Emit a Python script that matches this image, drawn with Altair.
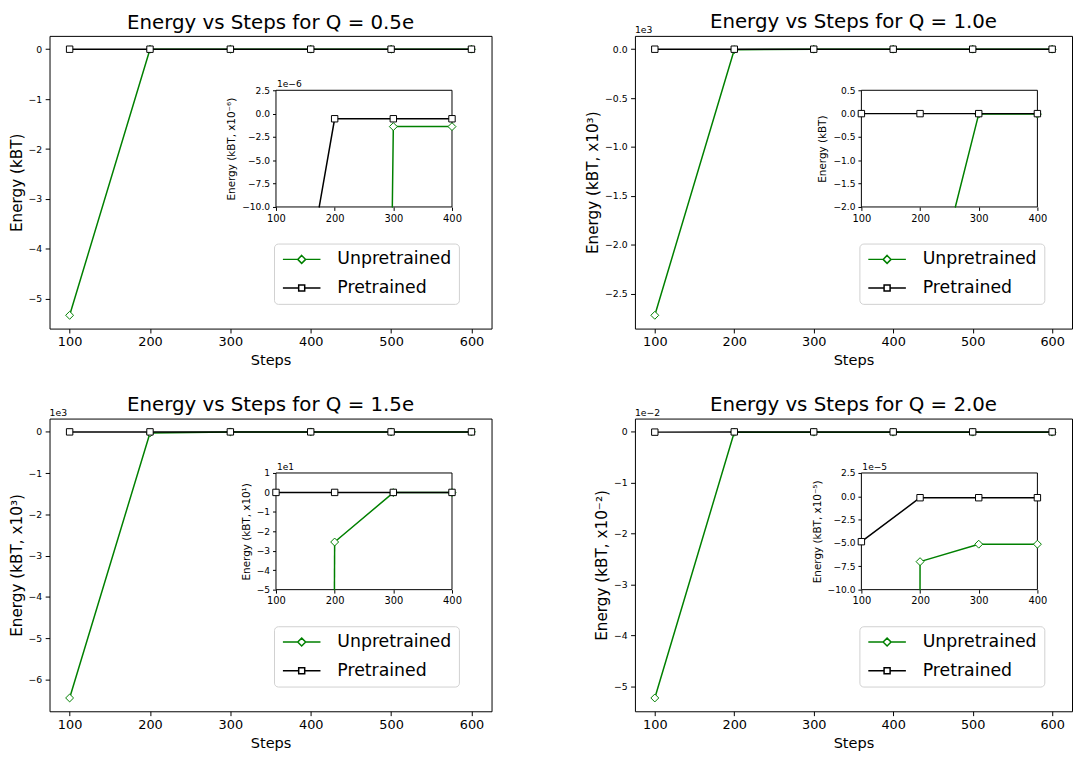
import altair as alt
import pandas as pd

GREEN = "#008000"
FONT = "DejaVu Sans"

steps = [100, 200, 300, 400, 500, 600]
series_names = ["Unpretrained", "Pretrained"]
x_ticks = [100, 200, 300, 400, 500, 600]
inset_x_ticks = [100, 200, 300, 400]

# Energy values (kBT)
q05_unpre = [-5.33, -5.0e-4, -1.39e-6, -1.39e-6, -1.39e-6, -1.39e-6]
q05_pre = [-3.65e-5, -0.55e-6, -0.55e-6, -0.55e-6, -0.55e-6, -0.55e-6]
q10_unpre = [-2720.0, -5.0, -0.01, -0.01, -0.01, -0.01]
q10_pre = [0.0, 0.0, 0.0, 0.0, 0.0, 0.0]
q15_unpre = [-6450.0, -25.5, -0.1, -0.1, -0.1, -0.1]
q15_pre = [0.0, 0.0, 0.0, 0.0, 0.0, 0.0]
q20_unpre = [-0.0523, -7.0e-5, -5.13e-5, -5.13e-5, -5.13e-5, -5.13e-5]
q20_pre = [-4.86e-5, -0.15e-5, -0.15e-5, -0.15e-5, -0.15e-5, -0.15e-5]

titles = ["Energy vs Steps for Q = 0.5e", "Energy vs Steps for Q = 1.0e",
          "Energy vs Steps for Q = 1.5e", "Energy vs Steps for Q = 2.0e"]
main_ytitles = ["Energy (kBT)", "Energy (kBT, x10³)", "Energy (kBT, x10³)", "Energy (kBT, x10⁻²)"]
main_yticks = [[-5, -4, -3, -2, -1, 0], [-2.5, -2.0, -1.5, -1.0, -0.5, 0.0],
               [-6, -5, -4, -3, -2, -1, 0], [-5, -4, -3, -2, -1, 0]]
main_yscale = [1, 1e3, 1e3, 1e-2]
main_yfmt = ["d", ".1f", "d", "d"]
main_offset = ["", "1e3", "1e3", "1e−2"]

inset_ytitles = ["Energy (kBT, x10⁻⁶)", "Energy (kBT)", "Energy (kBT, x10¹)", "Energy (kBT, x10⁻⁵)"]
inset_ydomain = [[-10.0, 2.5], [-2.0, 0.5], [-5.0, 1.0], [-10.0, 2.5]]
inset_yticks = [[-10.0, -7.5, -5.0, -2.5, 0.0, 2.5], [-2.0, -1.5, -1.0, -0.5, 0.0, 0.5],
                [-5, -4, -3, -2, -1, 0, 1], [-10.0, -7.5, -5.0, -2.5, 0.0, 2.5]]
inset_yscale = [1e-6, 1, 1e1, 1e-5]
inset_yfmt = [".1f", ".1f", "d", ".1f"]
inset_offset = ["1e−6", "", "1e1", "1e−5"]

unpre_all = [q05_unpre, q10_unpre, q15_unpre, q20_unpre]
pre_all = [q05_pre, q10_pre, q15_pre, q20_pre]
widths = [447, 442, 447, 442]
title_offsets = [-13, -23, -23, -23]
H = 296
IX = [229, 407]
IY = [173, 55]

DIAMOND_PATH = "M-2.375,0H-0.5M0.5,0H2.375M0,-0.5L0.5,0L0,0.5L-0.5,0Z"
SQUARE_PATH = "M-2.375,0H-0.38M0.38,0H2.375M-0.38,-0.38H0.38V0.38H-0.38Z"

styles = [("Unpretrained", GREEN, "diamond", 64), ("Pretrained", "black", "square", 42)]


def clip(x0, y0, x1, y1, xmin, xmax, ymin, ymax):
    dx, dy = x1 - x0, y1 - y0
    t0, t1 = 0.0, 1.0
    for p, q in ((-dx, x0 - xmin), (dx, xmax - x0), (-dy, y0 - ymin), (dy, ymax - y0)):
        if p == 0:
            if q < 0:
                return None
        else:
            t = q / p
            if p < 0:
                if t > t1:
                    return None
                t0 = max(t0, t)
            else:
                if t < t0:
                    return None
                t1 = min(t1, t)
    if t1 - t0 < 1e-9:
        return None
    return (x0 + t0 * dx, y0 + t0 * dy, x0 + t1 * dx, y0 + t1 * dy)


def make_panel(i):
    W = widths[i]
    unpre, pre = unpre_all[i], pre_all[i]
    df = pd.DataFrame({"Steps": steps * 2, "Energy": unpre + pre,
                       "Series": ["Unpretrained"] * 6 + ["Pretrained"] * 6})
    lo, hi = min(unpre + pre), max(unpre + pre)
    r = hi - lo
    xs = alt.Scale(domain=[75, 625], nice=False, zero=False)
    ys = alt.Scale(domain=[lo - 0.05 * r, hi + 0.05 * r], nice=False, zero=False)
    sc = main_yscale[i]
    xax = alt.Axis(values=x_ticks, title="Steps", orient="bottom", format="d",
                   labelFontSize=13, titleFontSize=14.7, tickSize=4.4, labelPadding=3,
                   titlePadding=4, labelFlush=False)
    yax = alt.Axis(values=[v * sc for v in main_yticks[i]], title=main_ytitles[i], orient="left",
                   labelExpr=f"format(datum.value / {sc}, '{main_yfmt[i]}')",
                   labelFontSize=9.4, titleFontSize=15.4, tickSize=4.4, labelPadding=3.5,
                   titlePadding=4, labelFlush=False)
    main_layers = []
    for s, col, shp, size in styles:
        base = alt.Chart(df).transform_filter(alt.datum.Series == s)
        enc = dict(x=alt.X("Steps:Q", scale=xs, axis=xax), y=alt.Y("Energy:Q", scale=ys, axis=yax))
        main_layers.append(base.mark_line(color=col, strokeWidth=1.5).encode(**enc))
        main_layers.append(base.mark_point(shape=shp, size=size, filled=True, fill="white",
                                           stroke=col, strokeWidth=1, opacity=1).encode(**enc))
    main = alt.layer(*main_layers)

    isc = inset_yscale[i]
    ymin, ymax = inset_ydomain[i][0] * isc, inset_ydomain[i][1] * isc
    ixs = alt.Scale(domain=[100, 400], range=IX, nice=False, zero=False)
    iys = alt.Scale(domain=[ymin, ymax], range=IY, nice=False, zero=False)
    ixax = alt.Axis(orient="bottom", offset=-(H - IY[0]), values=inset_x_ticks, format="d",
                    title=None, domain=False, labelFontSize=10, tickSize=3.5, labelPadding=3,
                    labelFlush=False)
    iyax = alt.Axis(orient="left", offset=-IX[0], values=[v * isc for v in inset_yticks[i]],
                    labelExpr=f"format(datum.value / {isc}, '{inset_yfmt[i]}')",
                    title=inset_ytitles[i], titleFontSize=10.5, labelFontSize=9.2,
                    domain=False, tickSize=3.5, labelPadding=3, titlePadding=5, labelFlush=False)
    frame = pd.DataFrame({"x": [100], "x2": [400], "y": [ymin], "y2": [ymax]})
    inset_layers = [alt.Chart(frame).mark_rect(fill="white", stroke="black", strokeWidth=1).encode(
        x=alt.X("x:Q", scale=ixs, axis=ixax), x2="x2:Q",
        y=alt.Y("y:Q", scale=iys, axis=iyax), y2="y2:Q")]
    for s, col, shp, size in styles:
        vals = unpre if s == "Unpretrained" else pre
        segs = []
        for k in range(len(steps) - 1):
            c = clip(steps[k], vals[k], steps[k + 1], vals[k + 1], 100, 400, ymin, ymax)
            if c:
                segs.append({"x": c[0], "y": c[1], "x2": c[2], "y2": c[3]})
        if segs:
            inset_layers.append(alt.Chart(pd.DataFrame(segs)).mark_rule(
                color=col, strokeWidth=1.5, strokeCap="round").encode(
                x=alt.X("x:Q", scale=ixs, axis=ixax), x2="x2:Q",
                y=alt.Y("y:Q", scale=iys, axis=iyax), y2="y2:Q"))
        pts = pd.DataFrame({"x": steps, "y": vals})
        pts = pts[(pts.x >= 100) & (pts.x <= 400) & (pts.y >= ymin) & (pts.y <= ymax)]
        if len(pts):
            inset_layers.append(alt.Chart(pts).mark_point(
                shape=shp, size=size, filled=True, fill="white", stroke=col, strokeWidth=1,
                opacity=1).encode(x=alt.X("x:Q", scale=ixs, axis=ixax),
                                  y=alt.Y("y:Q", scale=iys, axis=iyax)))
    inset = alt.layer(*inset_layers)

    layers = [main, inset]
    if main_offset[i]:
        layers.append(alt.Chart(pd.DataFrame({"t": [main_offset[i]]})).mark_text(
            align="left", baseline="alphabetic", fontSize=9.4, font=FONT, color="black").encode(
            text="t:N", x=alt.value(0), y=alt.value(-2.5)))
    if inset_offset[i]:
        layers.append(alt.Chart(pd.DataFrame({"t": [inset_offset[i]]})).mark_text(
            align="left", baseline="alphabetic", fontSize=9.2, font=FONT, color="black").encode(
            text="t:N", x=alt.value(IX[0] + 1), y=alt.value(IY[1] - 3.5)))

    leg = alt.Legend(title=None, orient="none", legendX=227, legendY=210, fillColor="white",
                     strokeColor="#d0d0d0", cornerRadius=4, padding=7, labelFontSize=17.5,
                     labelFont=FONT, labelColor="black", symbolSize=256, symbolStrokeWidth=1.5,
                     symbolOffset=12, labelOffset=27, rowPadding=11, symbolFillColor="white",
                     labelLimit=300)
    legend_layer = alt.Chart(pd.DataFrame({"Series": series_names})).transform_filter("false").mark_point(
        size=256, filled=False, opacity=1, strokeWidth=1.5).encode(
        stroke=alt.Stroke("Series:N", scale=alt.Scale(domain=series_names, range=[GREEN, "black"]), legend=leg),
        shape=alt.Shape("Series:N", scale=alt.Scale(domain=series_names, range=[DIAMOND_PATH, SQUARE_PATH]), legend=leg))
    layers.append(legend_layer)

    return alt.layer(*layers).resolve_scale(
        x="independent", y="independent", shape="independent", stroke="independent").resolve_axis(
        x="independent", y="independent").properties(
        width=W, height=H,
        title=alt.TitleParams(titles[i], fontSize=20, font=FONT, fontWeight="normal", color="black",
                              anchor="middle", frame="group", baseline="alphabetic",
                              offset=title_offsets[i]))


chart = alt.concat(*[make_panel(i) for i in range(4)], columns=2,
                   spacing={"row": 91, "column": 145}, bounds="flush").resolve_scale(
    stroke="independent", shape="independent", x="independent", y="independent").resolve_legend(
    stroke="independent", shape="independent").properties(padding=0, background="white").configure_view(
    stroke="black", strokeWidth=1).configure_axis(
    grid=False, domain=False, tickColor="black", labelColor="black", titleColor="black",
    labelFont=FONT, titleFont=FONT, titleFontWeight="normal", tickWidth=1)

chart.save("out.html", embed_options={"renderer": "svg", "actions": False})
